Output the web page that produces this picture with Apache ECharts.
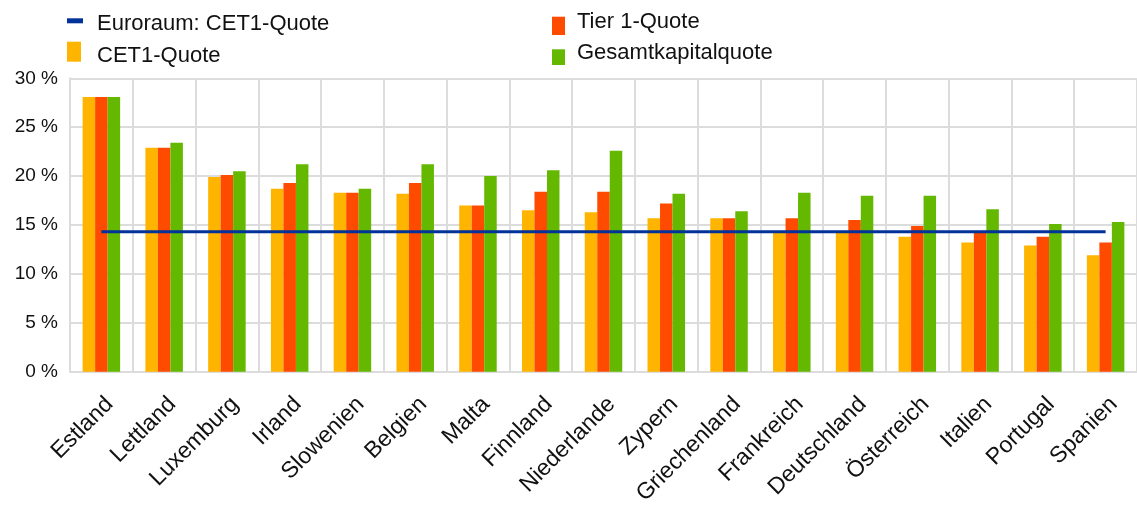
<!DOCTYPE html>
<html>
<head>
<meta charset="utf-8">
<script src="https://cdn.jsdelivr.net/npm/echarts@6/dist/echarts.min.js"></script>
<style>
  html, body { margin: 0; padding: 0; background: #fff; }
  #chart { width: 1137px; height: 516px; }
</style>
</head>
<body>
<div id="chart"></div>
<script>
// Capital ratios by country (in %)
const countries = ['Estland', 'Lettland', 'Luxemburg', 'Irland', 'Slowenien', 'Belgien', 'Malta', 'Finnland',
  'Niederlande', 'Zypern', 'Griechenland', 'Frankreich', 'Deutschland', 'Österreich', 'Italien', 'Portugal', 'Spanien'];
const cet1Ratio  = [28.1, 22.9, 19.9, 18.7, 18.3, 18.2, 17.0, 16.5, 16.3, 15.7, 15.7, 14.2, 14.2, 13.8, 13.2, 12.9, 11.9];
const tier1Ratio = [28.1, 22.9, 20.1, 19.3, 18.3, 19.3, 17.0, 18.4, 18.4, 17.2, 15.7, 15.7, 15.5, 14.9, 14.3, 13.8, 13.2];
const totalRatio = [28.1, 23.4, 20.5, 21.2, 18.7, 21.2, 20.0, 20.6, 22.6, 18.2, 16.4, 18.3, 18.0, 18.0, 16.6, 15.1, 15.3];
const euroAreaCet1 = 14.3;
const yTicks = [0, 5, 10, 15, 20, 25, 30];

const FONT = '"Liberation Sans", Arial, sans-serif';
const GRID = '#dcdcdc';
const C_BLUE = '#003299', C_YELLOW = '#FFB400', C_RED = '#FF4B00', C_GREEN = '#65B800';

const euroLine = countries.map(() => euroAreaCet1);

// Legend swatch: a w-wide rectangle from y0 to y1 inside a 40px tall item box
// (the corner move-tos fix the box so the swatch keeps its offset).
const BOX_H = 40;
function swatch(w, y0, y1) {
  return 'path://M0 0L0 0M0 ' + y0 + 'L' + w + ' ' + y0 + 'L' + w + ' ' + y1 + 'L0 ' + y1 +
    'ZM' + w + ' ' + BOX_H + 'L' + w + ' ' + BOX_H;
}

function legendBox(name, left, top, w, y0, y1, padLeft) {
  return {
    data: [{ name: name, icon: swatch(w, y0, y1) }],
    left: left, top: top, padding: 0,
    itemWidth: w, itemHeight: BOX_H,
    selectedMode: false,
    itemStyle: { borderWidth: 0 },
    textStyle: { fontFamily: FONT, fontSize: 22, color: '#111', padding: [0, 0, 0, padLeft] }
  };
}

const chart = echarts.init(document.getElementById('chart'), null, { renderer: 'canvas' });
chart.setOption({
  animation: false,
  backgroundColor: '#fff',
  legend: [
    legendBox('Euroraum: CET1-Quote', 67, 4.2, 16, 14.1, 19.1, 9),
    legendBox('CET1-Quote', 67, 36, 14, 5.7, 25.7, 11),
    legendBox('Tier 1-Quote', 552, 2, 13, 14.7, 33, 7),
    legendBox('Gesamtkapitalquote', 552, 33, 13, 16.3, 32, 7)
  ],
  grid: { left: 70, top: 78.3, bottom: 144.3, right: -7 },
  xAxis: {
    type: 'category',
    data: countries,
    axisTick: { show: false },
    axisLine: { lineStyle: { color: GRID, width: 2 } },
    splitLine: { show: true, lineStyle: { color: GRID, width: 2 } },
    axisLabel: {
      interval: 0, rotate: 45, margin: 21,
      align: 'right', verticalAlign: 'top',
      fontFamily: FONT, fontSize: 23, color: '#111'
    }
  },
  yAxis: {
    type: 'value',
    min: yTicks[0], max: yTicks[yTicks.length - 1], interval: 5,
    axisLine: { show: true, lineStyle: { color: GRID, width: 2 } },
    axisTick: { show: false },
    splitLine: { lineStyle: { color: GRID, width: 2 } },
    axisLabel: { margin: 12, fontFamily: FONT, fontSize: 19, color: '#111', formatter: '{value} %' }
  },
  series: [
    { name: 'CET1-Quote', type: 'bar', data: cet1Ratio, barWidth: 12.5, barGap: '0%', itemStyle: { color: C_YELLOW } },
    { name: 'Tier 1-Quote', type: 'bar', data: tier1Ratio, barWidth: 12.5, barGap: '0%', itemStyle: { color: C_RED } },
    { name: 'Gesamtkapitalquote', type: 'bar', data: totalRatio, barWidth: 12.5, barGap: '0%', itemStyle: { color: C_GREEN } },
    { name: 'Euroraum: CET1-Quote', type: 'line', data: euroLine, symbol: 'none', z: 5,
      lineStyle: { color: C_BLUE, width: 3 }, itemStyle: { color: C_BLUE } }
  ]
});
</script>
</body>
</html>
